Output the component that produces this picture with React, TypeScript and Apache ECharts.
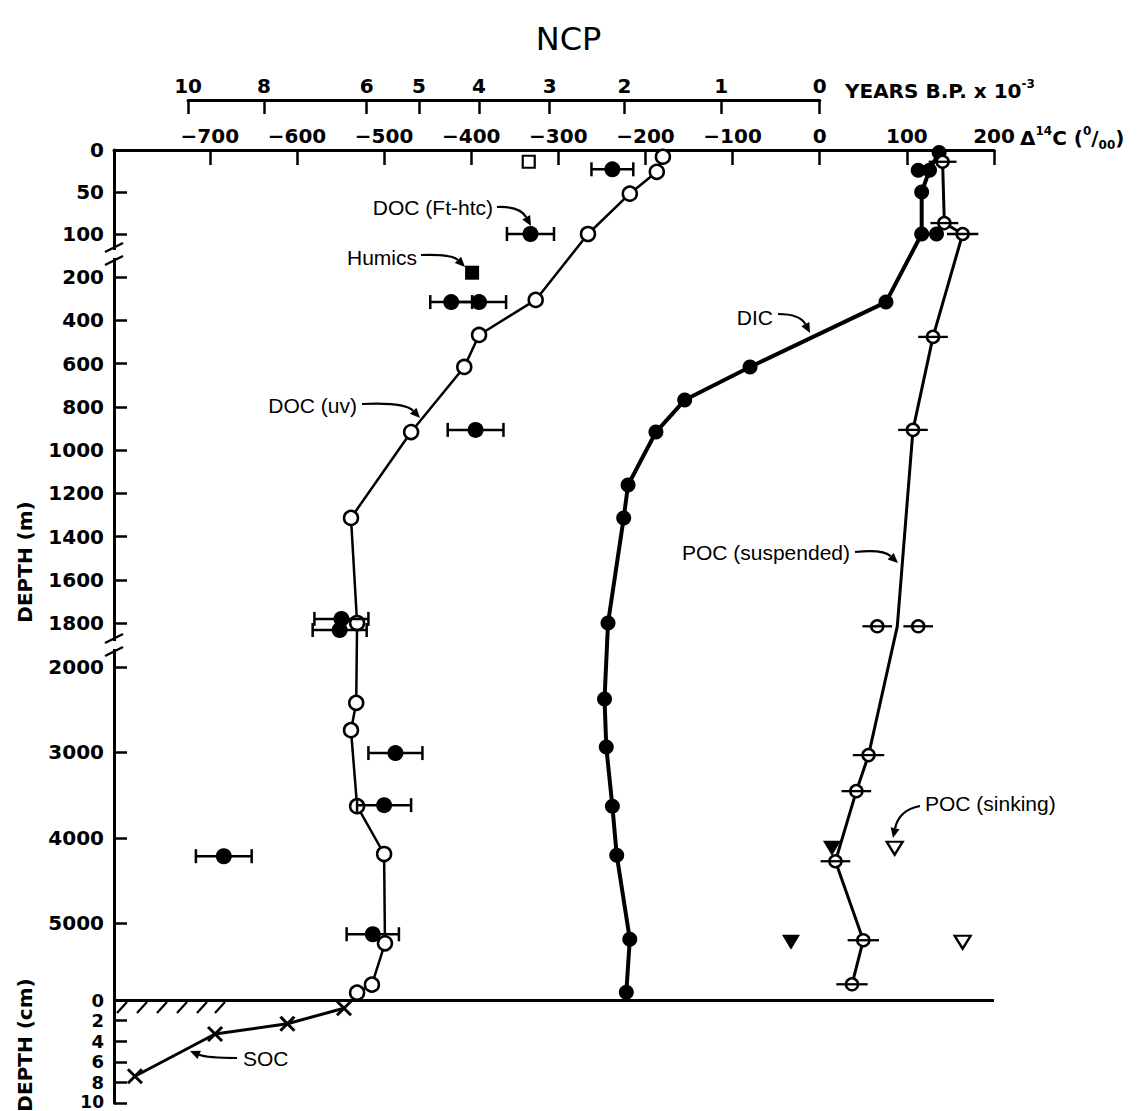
import React, { useEffect, useRef } from "react";
import * as echarts from "echarts";

const W = 1137;
const H = 1111;
const FONT = "'Liberation Sans', Helvetica, Arial, sans-serif";
const AXFONT = "'DejaVu Sans', 'Liberation Sans', sans-serif";

// ---------- axis definitions ----------
const deltaMin = -810;
const deltaMax = 200;
const deltaTicks = [-700, -600, -500, -400, -300, -200, -100, 0, 100, 200];
const yearLabels = ["10", "8", "6", "5", "4", "3", "2", "1", "0"];
const yearTickDelta = [-725, -638, -520, -460, -391, -310, -224, -113, 0];

const depthTicksM = [0, 50, 100, 200, 400, 600, 800, 1000, 1200, 1400, 1600, 1800, 2000, 3000, 4000, 5000];
const sedimentTicksCm = [0, 2, 4, 6, 8, 10];
// broken depth scale: water depth (m) -> axis units
const scaleDepthM = [0, 100, 200, 1800, 2000, 5900];
const scaleUnits = [150, 234, 277, 623, 667, 1000];
const sedUnitsPerCm = 10.3;
const unitsMin = 150;
const unitsMax = 1103;

// ---------- data (Δ14C ‰ vs depth) ----------
const docUvDepth = [8, 26, 52, 100, 306, 468, 616, 917, 1314, 1800, 2420, 2740, 3630, 4190, 5236, 5720, 5814];
const docUvDelta = [-180, -187, -218, -266, -326, -391, -408, -469, -538, -531, -532, -538, -531, -500, -499, -514, -531];

const ftDepth = [23, 100, 316, 316, 907, 1781, 1832, 3008, 3618, 4216, 5130];
const ftDelta = [-238, -332, -423, -391, -395, -549, -551, -487, -500, -684, -513];
const ftErr = [24, 27, 24, 31, 32, 31, 31, 31, 31, 32, 30];

const openSquareDepth = [14];
const openSquareDelta = [-334];
const humicsDepth = [190];
const humicsDelta = [-399];

const dicDepth = [3, 24, 50, 100, 316, 616, 769, 917, 1162, 1314, 1800, 2375, 2938, 3630, 4204, 5189, 5810];
const dicDelta = [137, 126, 117, 117, 76, -80, -155, -188, -220, -225, -243, -247, -245, -238, -233, -218, -222];
const dicExtraDepth = [24, 100];
const dicExtraDelta = [113, 134];

const pocDepth = [14, 87, 100, 477, 907, 1815, 3032, 3454, 4275, 5200, 5716];
const pocDelta = [141, 143, 164, 130, 107, 89, 56, 42, 18, 50, 37];
const pocErr = [16, 16, 18, 17, 17, 0, 18, 17, 17, 18, 18];
const pocMeasured = [true, true, true, true, true, false, true, true, true, true, true];
const pocPairDepth = [1815, 1815];
const pocPairDelta = [66, 113];
const pocPairErr = [17, 17];

const sinkFilledDepth = [4122, 5224];
const sinkFilledDelta = [14, -33];
const sinkOpenDepth = [4122, 5224];
const sinkOpenDelta = [86, 164];

const socDepthCm = [0.8, 2.3, 3.3, 7.4];
const socDelta = [-546, -611, -694, -786];

// ---------- scale helpers ----------
function mToU(d: number): number {
  const n = scaleDepthM.length;
  for (let i = 0; i < n - 1; i++) {
    if (d <= scaleDepthM[i + 1] || i === n - 2) {
      const t = (d - scaleDepthM[i]) / (scaleDepthM[i + 1] - scaleDepthM[i]);
      return scaleUnits[i] + t * (scaleUnits[i + 1] - scaleUnits[i]);
    }
  }
  return scaleUnits[n - 1];
}
function cmToU(c: number): number {
  return scaleUnits[scaleUnits.length - 1] + c * sedUnitsPerCm;
}

const GRID_LEFT = 114;
const GRID_TOP = 150;
const GRID_W = 880;
const GRID_H = unitsMax - unitsMin;
function pxOfDelta(d: number): number {
  return GRID_LEFT + ((d - deltaMin) / (deltaMax - deltaMin)) * GRID_W;
}

function nearestIndex(values: number[], v: number): number {
  let best = 0;
  let bd = Infinity;
  values.forEach((c, i) => {
    const dd = Math.abs(c - v);
    if (dd < bd) {
      bd = dd;
      best = i;
    }
  });
  return best;
}

function arrow(x1: number, y1: number, cx: number, cy: number, x2: number, y2: number): any[] {
  const ang = Math.atan2(y2 - cy, x2 - cx);
  const L = 10;
  const Wd = 4.5;
  const bx = x2 - L * Math.cos(ang);
  const by = y2 - L * Math.sin(ang);
  const pts = [
    [x2, y2],
    [bx - Wd * Math.sin(ang), by + Wd * Math.cos(ang)],
    [bx + Wd * Math.sin(ang), by - Wd * Math.cos(ang)],
  ];
  return [
    {
      type: "bezierCurve",
      shape: { x1, y1, x2: bx, y2: by, cpx1: cx, cpy1: cy },
      style: { stroke: "#000", lineWidth: 2.2, fill: "none" },
      z: 10,
    },
    { type: "polygon", shape: { points: pts }, style: { fill: "#000" }, z: 10 },
  ];
}

function note(text: string, x: number, y: number, align: string): any {
  return {
    type: "text",
    x,
    y,
    z: 10,
    style: {
      text,
      fontFamily: FONT,
      fontSize: 21,
      fill: "#000",
      align,
      textAlign: align,
      verticalAlign: "middle",
      textVerticalAlign: "middle",
    },
  };
}

function buildOption(): any {
  const pair = (deltas: number[], depths: number[]) => deltas.map((d, i) => [d, mToU(depths[i])]);

  const yCustomM = depthTicksM.map(mToU);
  const yCustom = [...yCustomM, ...sedimentTicksCm.map(cmToU)];
  const yLabels = [...depthTicksM.map(String), ...sedimentTicksCm.map(String)];
  // the bottom-most label sits at the page edge; it is drawn as a graphic text nudged inside
  const yLabelValues = yCustom.slice(0, yCustom.length - 1);
  const lastLabel = yLabels[yLabels.length - 1];

  const labelStyle = { fontFamily: AXFONT, fontSize: 20, fontWeight: "bold", color: "#000" };

  const errBarRender = (caps: boolean, lw: number) => (params: any, api: any) => {
    const x = api.value(0);
    const y = api.value(1);
    const e = api.value(2);
    const p1 = api.coord([x - e, y]);
    const p2 = api.coord([x + e, y]);
    const children: any[] = [
      { type: "line", shape: { x1: p1[0], y1: p1[1], x2: p2[0], y2: p2[1] }, style: { stroke: "#000", lineWidth: lw } },
    ];
    if (caps) {
      const c = 7;
      children.push({ type: "line", shape: { x1: p1[0], y1: p1[1] - c, x2: p1[0], y2: p1[1] + c }, style: { stroke: "#000", lineWidth: 2.5 } });
      children.push({ type: "line", shape: { x1: p2[0], y1: p2[1] - c, x2: p2[0], y2: p2[1] + c }, style: { stroke: "#000", lineWidth: 2.5 } });
    }
    return { type: "group", children };
  };

  const xRender = (params: any, api: any) => {
    const p = api.coord([api.value(0), api.value(1)]);
    const s = 7;
    return {
      type: "group",
      children: [
        { type: "line", shape: { x1: p[0] - s, y1: p[1] - s, x2: p[0] + s, y2: p[1] + s }, style: { stroke: "#000", lineWidth: 3 } },
        { type: "line", shape: { x1: p[0] - s, y1: p[1] + s, x2: p[0] + s, y2: p[1] - s }, style: { stroke: "#000", lineWidth: 3 } },
      ],
    };
  };

  const pocLineData = pocDelta.map((d, i) => {
    const item: any = { value: [d, mToU(pocDepth[i])] };
    if (!pocMeasured[i]) item.symbol = "none";
    return item;
  });
  const pocBarData = [
    ...pocDelta.map((d, i) => [d, mToU(pocDepth[i]), pocErr[i]]).filter((_, i) => pocMeasured[i]),
    ...pocPairDelta.map((d, i) => [d, mToU(pocPairDepth[i]), pocPairErr[i]]),
  ];

  const yearsLeft = pxOfDelta(yearTickDelta[0]);
  const yearsRight = pxOfDelta(yearTickDelta[yearTickDelta.length - 1]);

  // hatch & break marks
  const hatch: any[] = [117, 137, 157, 177, 197, 215].map((x) => ({
    type: "line",
    shape: { x1: x, y1: 1013, x2: x + 10, y2: 1002 },
    style: { stroke: "#000", lineWidth: 2.2 },
    z: 10,
  }));
  const breaks: any[] = [];
  [254, 645].forEach((yc) => {
    breaks.push({ type: "rect", shape: { x: 109, y: yc - 4, width: 10, height: 8 }, style: { fill: "#fff" }, z: 10 });
    breaks.push({ type: "line", shape: { x1: 105, y1: yc - 2, x2: 123, y2: yc - 11 }, style: { stroke: "#000", lineWidth: 2.5 }, z: 11 });
    breaks.push({ type: "line", shape: { x1: 105, y1: yc + 11, x2: 123, y2: yc + 2 }, style: { stroke: "#000", lineWidth: 2.5 }, z: 11 });
  });

  const supRich = {
    n: { fontFamily: AXFONT, fontSize: 20, fontWeight: "bold", lineHeight: 26, verticalAlign: "middle" },
    s: { fontFamily: AXFONT, fontSize: 12, fontWeight: "bold", lineHeight: 14, verticalAlign: "top" },
    b: { fontFamily: AXFONT, fontSize: 12, fontWeight: "bold", lineHeight: 14, verticalAlign: "bottom" },
  };

  const opaque = { opacity: 1 };

  return {
    animation: false,
    backgroundColor: "#fff",
    title: {
      text: "NCP",
      left: "center",
      top: 18,
      textStyle: { fontFamily: AXFONT, fontSize: 32, fontWeight: "normal", color: "#000" },
    },
    grid: [
      { left: GRID_LEFT, top: GRID_TOP, width: GRID_W, height: GRID_H, containLabel: false, outerBoundsMode: "none" },
      { left: yearsLeft, top: 100, width: yearsRight - yearsLeft, height: 2, containLabel: false, outerBoundsMode: "none" },
    ],
    xAxis: [
      {
        type: "value",
        gridIndex: 0,
        position: "top",
        min: deltaMin,
        max: deltaMax,
        axisLine: { show: true, onZero: false, lineStyle: { color: "#000", width: 3 } },
        axisTick: { show: true, inside: true, length: 15, lineStyle: { color: "#000", width: 2.5 }, customValues: deltaTicks },
        axisLabel: {
          ...labelStyle,
          margin: 4,
          customValues: deltaTicks,
          hideOverlap: false,
          showMinLabel: true,
          showMaxLabel: true,
          formatter: (v: number) => (v < 0 ? "\u2212" + Math.abs(Math.round(v)) : String(Math.round(v))),
        },
        splitLine: { show: false },
      },
      {
        type: "value",
        gridIndex: 1,
        position: "top",
        min: yearTickDelta[0],
        max: yearTickDelta[yearTickDelta.length - 1],
        axisLine: { show: true, onZero: false, lineStyle: { color: "#000", width: 3 } },
        axisTick: { show: true, inside: true, length: 14, lineStyle: { color: "#000", width: 2.5 }, customValues: yearTickDelta },
        axisLabel: {
          ...labelStyle,
          margin: 4,
          customValues: yearTickDelta,
          hideOverlap: false,
          showMinLabel: true,
          showMaxLabel: true,
          formatter: (v: number) => yearLabels[nearestIndex(yearTickDelta, v)],
        },
        splitLine: { show: false },
      },
    ],
    yAxis: [
      {
        type: "value",
        gridIndex: 0,
        inverse: true,
        min: unitsMin,
        max: unitsMax,
        axisLine: { show: true, onZero: false, lineStyle: { color: "#000", width: 3 } },
        axisTick: { show: true, inside: true, length: 13, lineStyle: { color: "#000", width: 2.5 }, customValues: yCustom },
        axisLabel: {
          ...labelStyle,
          margin: 10,
          customValues: yLabelValues,
          hideOverlap: false,
          showMinLabel: true,
          showMaxLabel: true,
          formatter: (v: number) => {
            const i = nearestIndex(yCustom, v);
            if (i < yCustomM.length) return "{m|" + yLabels[i] + "}";
            return "{c|" + yLabels[i] + "}";
          },
          rich: {
            m: { fontFamily: AXFONT, fontSize: 20, fontWeight: "bold", lineHeight: 22 },
            c: { fontFamily: AXFONT, fontSize: 18, fontWeight: "bold", lineHeight: 15 },
          },
        },
        splitLine: { show: false },
      },
      { type: "value", gridIndex: 1, show: false, min: 0, max: 1 },
    ],
    series: [
      {
        name: "DOC (uv)",
        type: "line",
        data: pair(docUvDelta, docUvDepth),
        symbol: "circle",
        symbolSize: 14,
        itemStyle: { color: "#fff", borderColor: "#000", borderWidth: 2.5, ...opaque },
        lineStyle: { color: "#000", width: 2.5 },
        z: 2,
      },
      {
        name: "DOC (Ft-htc) error",
        type: "custom",
        renderItem: errBarRender(true, 2.5),
        data: ftDelta.map((d, i) => [d, mToU(ftDepth[i]), ftErr[i]]),
        encode: { x: 0, y: 1 },
        z: 3,
      },
      {
        name: "DOC (Ft-htc)",
        type: "scatter",
        data: pair(ftDelta, ftDepth),
        symbol: "circle",
        symbolSize: 16,
        itemStyle: { color: "#000", ...opaque },
        z: 4,
      },
      {
        name: "DOC open square",
        type: "scatter",
        data: pair(openSquareDelta, openSquareDepth),
        symbol: "rect",
        symbolSize: 12,
        itemStyle: { color: "#fff", borderColor: "#000", borderWidth: 2.2, ...opaque },
        z: 4,
      },
      {
        name: "Humics",
        type: "scatter",
        data: pair(humicsDelta, humicsDepth),
        symbol: "rect",
        symbolSize: 14,
        itemStyle: { color: "#000", ...opaque },
        z: 4,
      },
      {
        name: "DIC",
        type: "line",
        data: pair(dicDelta, dicDepth),
        symbol: "circle",
        symbolSize: 15,
        itemStyle: { color: "#000", ...opaque },
        lineStyle: { color: "#000", width: 4 },
        z: 2,
      },
      {
        name: "DIC extra",
        type: "scatter",
        data: pair(dicExtraDelta, dicExtraDepth),
        symbol: "circle",
        symbolSize: 15,
        itemStyle: { color: "#000", ...opaque },
        z: 3,
      },
      {
        name: "POC (suspended)",
        type: "line",
        data: pocLineData,
        symbol: "circle",
        symbolSize: 12,
        itemStyle: { color: "#fff", borderColor: "#000", borderWidth: 2.5, ...opaque },
        lineStyle: { color: "#000", width: 3 },
        z: 2,
      },
      {
        name: "POC (suspended) pair",
        type: "scatter",
        data: pair(pocPairDelta, pocPairDepth),
        symbol: "circle",
        symbolSize: 12,
        itemStyle: { color: "#fff", borderColor: "#000", borderWidth: 2.5, ...opaque },
        z: 3,
      },
      {
        name: "POC error",
        type: "custom",
        renderItem: errBarRender(false, 2.3),
        data: pocBarData,
        encode: { x: 0, y: 1 },
        z: 5,
      },
      {
        name: "POC (sinking) filled",
        type: "scatter",
        data: pair(sinkFilledDelta, sinkFilledDepth),
        symbol: "triangle",
        symbolRotate: 180,
        symbolSize: [18, 15],
        itemStyle: { color: "#000", ...opaque },
        z: 4,
      },
      {
        name: "POC (sinking) open",
        type: "scatter",
        data: pair(sinkOpenDelta, sinkOpenDepth),
        symbol: "triangle",
        symbolRotate: 180,
        symbolSize: [16, 13],
        itemStyle: { color: "#fff", borderColor: "#000", borderWidth: 2.3, ...opaque },
        z: 4,
      },
      {
        name: "SOC",
        type: "line",
        data: socDelta.map((d, i) => [d, cmToU(socDepthCm[i])]),
        symbol: "none",
        lineStyle: { color: "#000", width: 3 },
        z: 2,
        markLine: {
          silent: true,
          symbol: ["none", "none"],
          label: { show: false },
          lineStyle: { color: "#000", width: 3, type: "solid" },
          data: [{ yAxis: cmToU(0) }],
        },
      },
      {
        name: "SOC marks",
        type: "custom",
        renderItem: xRender,
        data: socDelta.map((d, i) => [d, cmToU(socDepthCm[i])]),
        encode: { x: 0, y: 1 },
        z: 3,
      },
    ],
    graphic: {
      elements: [
        ...hatch,
        ...breaks,
        {
          type: "text",
          x: 104,
          y: 1110,
          z: 10,
          style: {
            text: lastLabel,
            fontFamily: AXFONT,
            fontSize: 17,
            fontWeight: "bold",
            fill: "#000",
            align: "right",
            textAlign: "right",
            verticalAlign: "bottom",
            textVerticalAlign: "bottom",
          },
        },
        {
          type: "text",
          x: 845,
          y: 91,
          z: 10,
          style: {
            text: "{n|YEARS B.P. x 10}{s|-3}",
            rich: supRich,
            fill: "#000",
            align: "left",
            textAlign: "left",
            verticalAlign: "middle",
            textVerticalAlign: "middle",
          },
        },
        {
          type: "text",
          x: 1020,
          y: 138,
          z: 10,
          style: {
            text: "{n|\u0394}{s|14}{n|C (}{s|0}{n|/}{b|00}{n|)}",
            rich: supRich,
            fill: "#000",
            align: "left",
            textAlign: "left",
            verticalAlign: "middle",
            textVerticalAlign: "middle",
          },
        },
        {
          type: "text",
          x: 25,
          y: 562,
          rotation: Math.PI / 2,
          z: 10,
          style: {
            text: "DEPTH (m)",
            fontFamily: AXFONT,
            fontSize: 20,
            fontWeight: "bold",
            fill: "#000",
            align: "center",
            textAlign: "center",
            verticalAlign: "middle",
            textVerticalAlign: "middle",
          },
        },
        {
          type: "text",
          x: 25,
          y: 1045,
          rotation: Math.PI / 2,
          z: 10,
          style: {
            text: "DEPTH (cm)",
            fontFamily: AXFONT,
            fontSize: 20,
            fontWeight: "bold",
            fill: "#000",
            align: "center",
            textAlign: "center",
            verticalAlign: "middle",
            textVerticalAlign: "middle",
          },
        },
        note("DOC (Ft-htc)", 493, 207, "right"),
        ...arrow(497, 207, 520, 206, 531, 226),
        note("Humics", 417, 257, "right"),
        ...arrow(421, 255, 452, 254, 465, 267),
        note("DOC (uv)", 357, 405, "right"),
        ...arrow(362, 404, 405, 402, 420, 418),
        note("DIC", 773, 317, "right"),
        ...arrow(778, 314, 800, 314, 810, 333),
        note("POC (suspended)", 850, 552, "right"),
        ...arrow(855, 552, 883, 549, 898, 563),
        note("POC (sinking)", 925, 803, "left"),
        ...arrow(920, 806, 899, 810, 893, 838),
        note("SOC", 243, 1058, "left"),
        ...arrow(237, 1058, 207, 1058, 190, 1051),
      ],
    },
  };
}

export default function App() {
  const ref = useRef<HTMLDivElement>(null);
  useEffect(() => {
    if (!ref.current) return;
    const chart = echarts.init(ref.current, null, { renderer: "svg" });
    chart.setOption(buildOption());
    return () => {
      chart.dispose();
    };
  }, []);
  return (
    <div
      ref={ref}
      style={{ position: "absolute", left: 0, top: 0, width: W, height: H, background: "#fff" }}
    />
  );
}
